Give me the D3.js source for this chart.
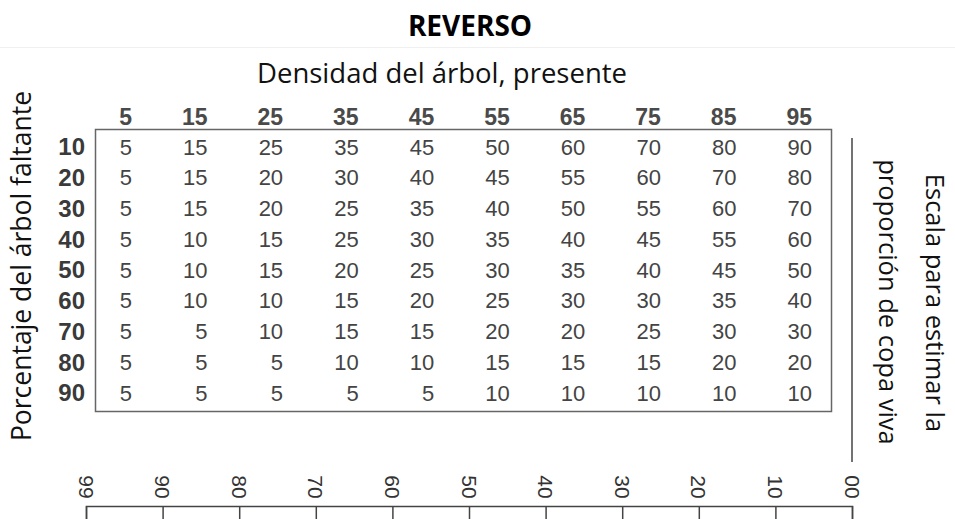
<!DOCTYPE html>
<html>
<head>
<meta charset="utf-8">
<script src="https://cdn.jsdelivr.net/npm/d3@7"></script>
<style>
  body { margin: 0; background: #fff; }
  svg { display: block; }
</style>
</head>
<body>
<div id="chart"></div>
<script>
// Tabla de proporcion de copa viva (reverso)
var densidad = ["5", "15", "25", "35", "45", "55", "65", "75", "85", "95"];
var faltante = ["10", "20", "30", "40", "50", "60", "70", "80", "90"];

var fila10 = [5, 15, 25, 35, 45, 50, 60, 70, 80, 90];
var fila20 = [5, 15, 20, 30, 40, 45, 55, 60, 70, 80];
var fila30 = [5, 15, 20, 25, 35, 40, 50, 55, 60, 70];
var fila40 = [5, 10, 15, 25, 30, 35, 40, 45, 55, 60];
var fila50 = [5, 10, 15, 20, 25, 30, 35, 40, 45, 50];
var fila60 = [5, 10, 10, 15, 20, 25, 30, 30, 35, 40];
var fila70 = [5, 5, 10, 15, 15, 20, 20, 25, 30, 30];
var fila80 = [5, 5, 5, 10, 10, 15, 15, 15, 20, 20];
var fila90 = [5, 5, 5, 5, 5, 10, 10, 10, 10, 10];

var escala = ["99", "90", "80", "70", "60", "50", "40", "30", "20", "10", "00"];

var filas = [fila10, fila20, fila30, fila40, fila50, fila60, fila70, fila80, fila90];

var width = 955;
var height = 519;
var numFont = "'Liberation Sans', Arial, sans-serif";
var labelFont = "'Open Sans', 'Noto Sans', sans-serif";

var svg = d3.select('#chart')
    .append('svg')
    .attr('width', width)
    .attr('height', height);

var x = d3.scalePoint()
    .domain(densidad)
    .range([132, 812]);

var y = d3.scalePoint()
    .domain(faltante)
    .range([147, 393]);

var xEscala = d3.scalePoint()
    .domain(escala)
    .range([86, 852]);

// titulo
svg.append("text")
    .attr("x", 470)
    .attr("y", 36)
    .attr("text-anchor", "middle")
    .style("font-family", labelFont)
    .style("font-weight", "bold")
    .style("font-size", "28px")
    .style("fill", "#000")
    .text("REVERSO");

svg.append("line")
    .attr("x1", 0).attr("x2", width)
    .attr("y1", 47.5).attr("y2", 47.5)
    .attr("stroke", "#f0f0f0");

svg.append("text")
    .attr("x", 442)
    .attr("y", 83)
    .attr("text-anchor", "middle")
    .style("font-family", labelFont)
    .style("font-size", "27.5px")
    .style("fill", "#111")
    .text("Densidad del árbol, presente");

svg.append("text")
    .attr("transform", "translate(31," + 266 + ") rotate(-90)")
    .attr("text-anchor", "middle")
    .style("font-family", labelFont)
    .style("font-size", "26.5px")
    .style("fill", "#111")
    .text("Porcentaje del árbol faltante");

var derecha = svg.append("g")
    .style("font-family", labelFont)
    .style("font-size", "25.5px")
    .style("fill", "#111");

derecha.append("text")
    .attr("transform", "translate(926,303) rotate(90)")
    .attr("text-anchor", "middle")
    .text("Escala para estimar la");

derecha.append("text")
    .attr("transform", "translate(879,302) rotate(90)")
    .attr("text-anchor", "middle")
    .text("proporción de copa viva");

// caja de la tabla
svg.append("rect")
    .attr("x", 95.5)
    .attr("y", 129.5)
    .attr("width", 831 - 95)
    .attr("height", 411 - 129)
    .attr("fill", "none")
    .attr("stroke", "#666")
    .attr("stroke-width", 1.5);

// encabezados
svg.append("g")
    .selectAll("text")
    .data(densidad)
    .enter()
    .append("text")
    .attr("x", d => x(d))
    .attr("y", 116.5)
    .attr("dy", "0.35em")
    .attr("text-anchor", "end")
    .style("font-family", numFont)
    .style("font-weight", "bold")
    .style("font-size", "23px")
    .style("fill", "#4a4a4a")
    .text(d => d);

svg.append("g")
    .selectAll("text")
    .data(faltante)
    .enter()
    .append("text")
    .attr("x", 85)
    .attr("y", d => y(d))
    .attr("dy", "0.35em")
    .attr("text-anchor", "end")
    .style("font-family", numFont)
    .style("font-weight", "bold")
    .style("font-size", "24px")
    .style("fill", "#3a3a3a")
    .text(d => d);

// celdas
var celdas = [];
filas.forEach(function (fila, i) {
    fila.forEach(function (v, j) {
        celdas.push({ fila: faltante[i], col: densidad[j], valor: v });
    });
});

svg.append("g")
    .selectAll("text")
    .data(celdas)
    .enter()
    .append("text")
    .attr("x", d => x(d.col))
    .attr("y", d => y(d.fila))
    .attr("dy", "0.35em")
    .attr("text-anchor", "end")
    .style("font-family", numFont)
    .style("font-size", "22px")
    .style("fill", "#444")
    .text(d => d.valor);

// linea vertical derecha
svg.append("line")
    .attr("x1", 852).attr("x2", 852)
    .attr("y1", 138).attr("y2", 462)
    .attr("stroke", "#444")
    .attr("stroke-width", 1.5);

// escala inferior
var xaxis = d3.axisBottom(xEscala)
    .tickSize(14)
    .tickFormat("");

var eje = svg.append("g")
    .attr("transform", "translate(0,506)")
    .call(xaxis);

eje.select(".domain")
    .attr("stroke", "#444")
    .attr("stroke-width", 1.5);
eje.selectAll(".tick line")
    .attr("stroke", "#444")
    .attr("stroke-width", 1.5);

svg.append("g")
    .selectAll("text")
    .data(escala)
    .enter()
    .append("text")
    .attr("transform", d => "translate(" + xEscala(d) + ",487) rotate(90)")
    .attr("dy", "0.35em")
    .attr("text-anchor", "middle")
    .style("font-family", numFont)
    .style("font-size", "21px")
    .style("fill", "#333")
    .text(d => d);
</script>
</body>
</html>
